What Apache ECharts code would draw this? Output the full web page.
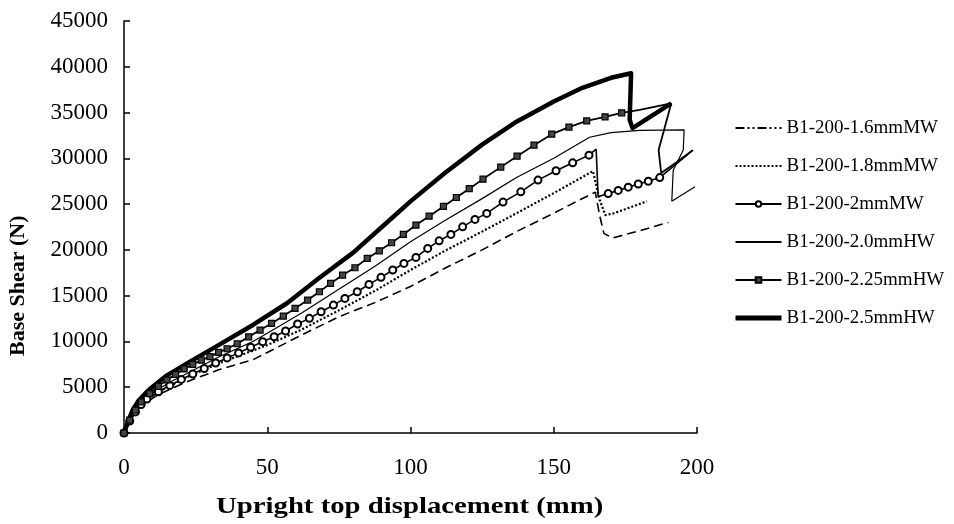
<!DOCTYPE html>
<html>
<head>
<meta charset="utf-8">
<script src="https://cdn.jsdelivr.net/npm/echarts@6/dist/echarts.min.js"></script>
<style>
  html, body { margin: 0; padding: 0; background: #fff; }
  #chart { width: 954px; height: 524px; }
</style>
</head>
<body>
<div id="chart"></div>
<script>
// [displacement (mm), base shear (N)]
var names = ['B1-200-1.6mmMW', 'B1-200-1.8mmMW', 'B1-200-2mmMW', 'B1-200-2.0mmHW', 'B1-200-2.25mmHW', 'B1-200-2.5mmHW'];
var xTicks = [0, 50, 100, 150, 200];
var yTicks = [0, 5000, 10000, 15000, 20000, 25000, 30000, 35000, 40000, 45000];

var mw16 = [[0,0],[1.5,900],[3,1800],[5,2600],[8,3400],[12,4200],[17,4900],[22,5600],[33,6900],[45,8000],[50,8800],[62,10700],[75,12700],[88,14300],[100,16000],[112,18000],[125,20000],[137,22000],[150,24000],[158,25300],[164.5,26300],[166,23800],[167.5,21800],[170.5,21300],[180,22100],[190,23000]];
var mw18 = [[0,0],[1.5,1000],[3,1900],[5,2800],[8,3700],[12,4500],[17,5300],[22,6100],[33,7600],[45,9000],[50,9600],[62,11300],[75,13400],[88,15600],[100,17800],[112,19900],[125,22000],[137,24000],[150,26200],[158,27600],[163.7,28600],[166,25500],[168,23800],[171,24000],[182.5,25300]];
var mw20 = [[0,0],[2,1300],[4,2300],[6,3100],[8,3700],[12,4500],[16,5200],[20,5850],[24,6450],[28,7050],[32,7650],[36,8200],[40,8750],[44.2,9360],[48.4,9970],[52.4,10510],[56.4,11140],[60.6,11900],[64.7,12520],[68.8,13240],[73.1,13970],[77.1,14700],[81.4,15430],[85.5,16230],[89.7,17000],[93.8,17800],[97.7,18520],[101.9,19180],[106,20160],[110,20990],[114.1,21690],[118.2,22520],[122.5,23330],[126.6,23985],[132.3,25220],[138.5,26340],[144.5,27620],[150.8,28640],[156.6,29510],[162.3,30350]];
var mw20Drop = [[164.8,31000],[165.5,25800]];
var mw20Tail = [[169,26150],[172.5,26500],[176,26850],[179.5,27200],[183,27500],[187,27900]];
var mw20End = [[198.6,30900]];
var hw20 = [[0,0],[1.5,1100],[3,2100],[5,3000],[8,3900],[12,4800],[17,5700],[22,6500],[33,8300],[45,10000],[50,10900],[62,13100],[75,15700],[88,18300],[100,20900],[112,23200],[125,25600],[137,27900],[150,30000],[162.5,32300],[170,32800],[180,33050],[195.5,33100],[195.2,30900],[191.7,28700],[191.2,25300],[199.3,26900]];
var hw225 = [[0,0],[2,1400],[4,2500],[6,3400],[9,4300],[12,5100],[15,5800],[18,6400],[21,7000],[24,7500],[27,7950],[30,8350],[33,8800],[36,9200],[39.5,9750],[43.5,10500],[47.5,11240],[51.5,11970],[55.6,12770],[59.7,13610],[64.1,14520],[68.2,15430],[72.1,16340],[76.3,17250],[80.6,18050],[84.9,19070],[89.1,19900],[93.4,20780],[97.5,21690],[101.9,22710],[106.5,23680],[111.5,24750],[116,25720],[120.5,26690],[125.3,27730],[131.5,29040],[137.2,30240],[143.1,31440],[149.3,32640],[155.3,33410],[161.5,34090],[167.9,34530],[173.7,34970]];
var hw225Tail = [[180,35300],[191,36000],[186.6,30900],[187.5,28400],[193,29600],[198.5,30900]];
var hw25 = [[0,0],[1.5,1300],[3,2500],[5,3500],[8,4500],[10,5050],[15,6300],[22,7600],[33,9600],[45,11800],[57,14200],[68,16900],[80,19700],[90,22500],[100,25300],[112,28400],[125,31500],[137,34000],[150,36200],[160,37700],[170,38800],[177,39300],[176.5,34200],[177.5,33300],[191,36000]];

function noMark(arr) {
    return arr.map(function (p) { return { value: p, symbol: 'none' }; });
}

var serif = 'Liberation Serif, Times New Roman, serif';
var hidden = { opacity: 0 };
var chart = echarts.init(document.getElementById('chart'));

chart.setOption({
    animation: false,
    backgroundColor: '#fff',
    textStyle: { fontFamily: serif, color: '#000' },
    grid: { left: 124, right: 257, top: 21, bottom: 91 },
    legend: {
        orient: 'vertical',
        left: 728,
        top: 113,
        itemWidth: 46,
        itemHeight: 7,
        itemGap: 18,
        data: [
            { name: names[0], itemStyle: hidden, lineStyle: { type: [9, 3, 2, 3, 2, 3] } },
            { name: names[1], itemStyle: hidden },
            { name: names[2] },
            { name: names[3], itemStyle: hidden },
            { name: names[4] },
            { name: names[5], itemStyle: hidden, lineStyle: { width: 5 } }
        ],
        textStyle: { fontFamily: serif, fontSize: 19, color: '#000', lineHeight: 20 }
    },
    graphic: [
        {
            type: 'text', left: 216, top: 496,
            style: { text: 'Upright top displacement (mm)', font: 'bold 23px ' + serif, fill: '#000' },
            scaleX: 1.25
        },
        {
            type: 'text', x: 7, y: 356, rotation: Math.PI / 2,
            style: { text: 'Base Shear (N)', font: 'bold 22px ' + serif, fill: '#000' }
        }
    ],
    xAxis: {
        type: 'value',
        min: xTicks[0], max: xTicks[xTicks.length - 1], interval: 50,
        axisLine: { lineStyle: { color: '#000', width: 1.5 } },
        axisTick: { inside: true, length: 6, lineStyle: { color: '#000', width: 1.5 } },
        axisLabel: { fontFamily: serif, fontSize: 23, color: '#000', margin: 23 },
        splitLine: { show: false }
    },
    yAxis: {
        type: 'value',
        min: yTicks[0], max: yTicks[yTicks.length - 1], interval: 5000,
        axisLine: { show: true, lineStyle: { color: '#000', width: 1.5 } },
        axisTick: { show: true, inside: true, length: 6, lineStyle: { color: '#000', width: 1.5 } },
        axisLabel: {
            fontFamily: serif, fontSize: 23, color: '#000', margin: 16,
            formatter: function (v) { return String(v); }
        },
        splitLine: { show: false }
    },
    series: [
        {
            name: names[0], type: 'line', data: mw16, symbol: 'none',
            lineStyle: { color: '#000', width: 1.6, type: [9, 5] },
            itemStyle: { color: '#000' }
        },
        {
            name: names[1], type: 'line', data: mw18, symbol: 'none',
            lineStyle: { color: '#000', width: 2.2, type: [2, 2] },
            itemStyle: { color: '#000' }
        },
        {
            name: names[2], type: 'line',
            data: mw20.concat(noMark(mw20Drop), mw20Tail, noMark(mw20End)),
            symbol: 'emptyCircle', symbolSize: 7, showAllSymbol: true,
            lineStyle: { color: '#000', width: 1.6 },
            itemStyle: { color: '#000', borderColor: '#000', borderWidth: 1.6 }
        },
        {
            name: names[3], type: 'line', data: hw20, symbol: 'none',
            lineStyle: { color: '#000', width: 1.2 },
            itemStyle: { color: '#000' }
        },
        {
            name: names[4], type: 'line',
            data: hw225.concat(noMark(hw225Tail)),
            symbol: 'rect', symbolSize: 6, showAllSymbol: true,
            lineStyle: { color: '#000', width: 1.8 },
            itemStyle: { color: '#444', borderColor: '#000', borderWidth: 1.2 }
        },
        {
            name: names[5], type: 'line', data: hw25, symbol: 'none',
            lineStyle: { color: '#000', width: 4.5, join: 'round' },
            itemStyle: { color: '#000' }
        }
    ]
});
</script>
</body>
</html>
